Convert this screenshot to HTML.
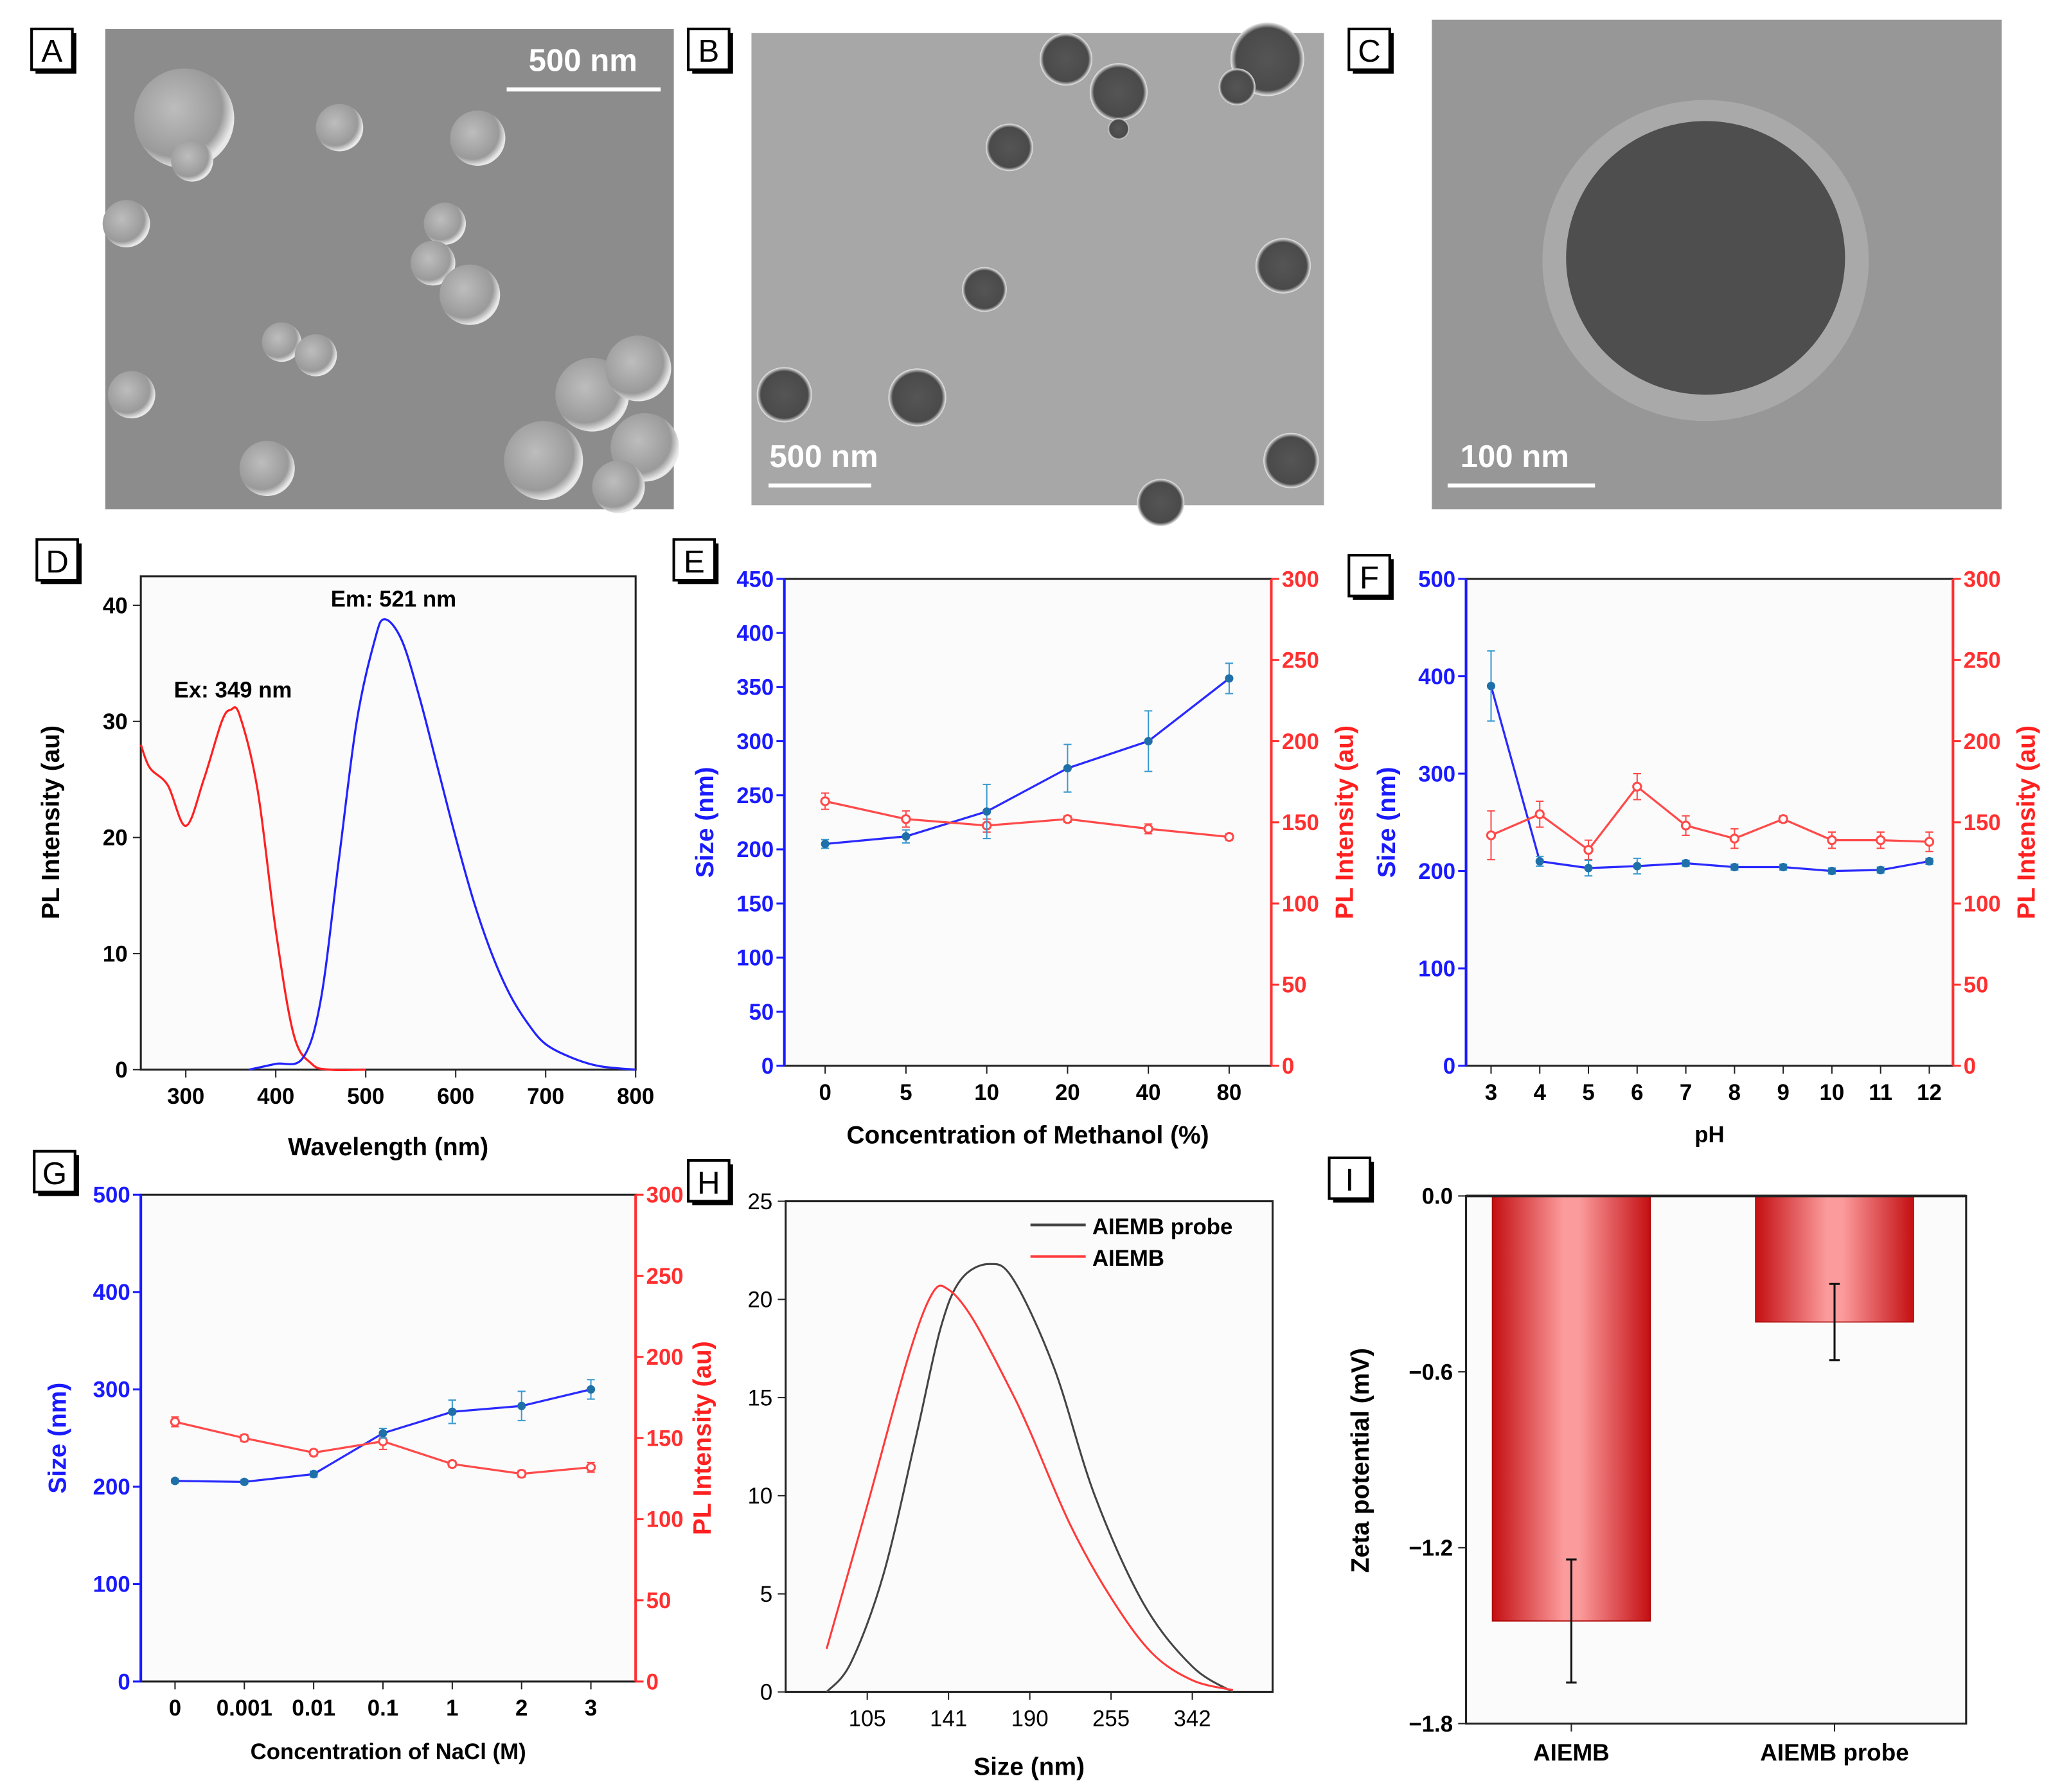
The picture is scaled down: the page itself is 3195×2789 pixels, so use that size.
<!DOCTYPE html>
<html><head><meta charset="utf-8"><style>
html,body{margin:0;padding:0;background:#fff;}
svg{display:block;font-family:"Liberation Sans",sans-serif;}
</style></head><body>
<svg id="fig" width="3195" height="2789" viewBox="0 0 1560 1362" preserveAspectRatio="none" xmlns="http://www.w3.org/2000/svg">
<defs>
<radialGradient id="sph" cx="0.4" cy="0.4" r="0.6"><stop offset="0" stop-color="#bdbdbd"/><stop offset="0.8" stop-color="#9a9a9a"/><stop offset="1" stop-color="#e8e8e8"/></radialGradient>
<radialGradient id="hole" cx="0.5" cy="0.5" r="0.5"><stop offset="0" stop-color="#555"/><stop offset="0.85" stop-color="#4a4a4a"/><stop offset="1" stop-color="#eee"/></radialGradient>
<linearGradient id="barg" x1="0" x2="1" y1="0" y2="0"><stop offset="0" stop-color="#c40f12"/><stop offset="0.45" stop-color="#fb9b9c"/><stop offset="0.55" stop-color="#fb9b9c"/><stop offset="1" stop-color="#c40f12"/></linearGradient>
</defs>
<g>
<rect x="80" y="22" width="432" height="365" fill="#8c8c8c"/>
<circle cx="140" cy="90" r="38" fill="url(#sph)"/><circle cx="146" cy="122" r="16" fill="url(#sph)"/>
<circle cx="96" cy="170" r="18" fill="url(#sph)"/><circle cx="100" cy="300" r="18" fill="url(#sph)"/>
<circle cx="258" cy="97" r="18" fill="url(#sph)"/><circle cx="363" cy="105" r="21" fill="url(#sph)"/>
<circle cx="338" cy="170" r="16" fill="url(#sph)"/><circle cx="329" cy="200" r="17" fill="url(#sph)"/><circle cx="357" cy="224" r="23" fill="url(#sph)"/>
<circle cx="214" cy="260" r="15" fill="url(#sph)"/><circle cx="240" cy="270" r="16" fill="url(#sph)"/>
<circle cx="203" cy="356" r="21" fill="url(#sph)"/><circle cx="413" cy="350" r="30" fill="url(#sph)"/>
<circle cx="450" cy="300" r="28" fill="url(#sph)"/><circle cx="485" cy="280" r="25" fill="url(#sph)"/><circle cx="490" cy="340" r="26" fill="url(#sph)"/><circle cx="470" cy="370" r="20" fill="url(#sph)"/>
<text x="443" y="54" font-size="24" font-weight="bold" fill="#fff" text-anchor="middle">500 nm</text>
<line x1="385" y1="68" x2="502" y2="68" stroke="#fff" stroke-width="3"/>
</g>
<g><rect x="27" y="25" width="31" height="31" fill="#000"/><rect x="24" y="22" width="31" height="31" fill="#fff" stroke="#000" stroke-width="2"/><text x="39.5" y="47" font-size="24" text-anchor="middle">A</text></g>
<g>
<rect x="571" y="25" width="435" height="359" fill="#a7a7a7"/>
<circle cx="810" cy="45" r="20" fill="url(#hole)"/><circle cx="850" cy="70" r="22" fill="url(#hole)"/><circle cx="850" cy="98" r="8" fill="url(#hole)"/>
<circle cx="963" cy="45" r="28" fill="url(#hole)"/><circle cx="940" cy="66" r="14" fill="url(#hole)"/>
<circle cx="767" cy="112" r="18" fill="url(#hole)"/><circle cx="748" cy="220" r="17" fill="url(#hole)"/>
<circle cx="975" cy="202" r="21" fill="url(#hole)"/><circle cx="596" cy="300" r="21" fill="url(#hole)"/>
<circle cx="697" cy="302" r="22" fill="url(#hole)"/><circle cx="981" cy="350" r="21" fill="url(#hole)"/><circle cx="882" cy="382" r="18" fill="url(#hole)"/>
<text x="626" y="355" font-size="24" font-weight="bold" fill="#fff" text-anchor="middle">500 nm</text>
<line x1="584" y1="369" x2="662" y2="369" stroke="#fff" stroke-width="3"/>
</g>
<g><rect x="526" y="25" width="31" height="31" fill="#000"/><rect x="523" y="22" width="31" height="31" fill="#fff" stroke="#000" stroke-width="2"/><text x="538.5" y="47" font-size="24" text-anchor="middle">B</text></g>
<g>
<rect x="1088" y="15" width="433" height="372" fill="#979797"/>
<ellipse cx="1296" cy="198" rx="124" ry="122" fill="#a9a9a9"/>
<ellipse cx="1296" cy="196" rx="106" ry="104" fill="#4e4e4e"/>
<text x="1151" y="355" font-size="24" font-weight="bold" fill="#fff" text-anchor="middle">100 nm</text>
<line x1="1100" y1="369" x2="1212" y2="369" stroke="#fff" stroke-width="3"/>
</g>
<g><rect x="1028" y="25" width="31" height="31" fill="#000"/><rect x="1025" y="22" width="31" height="31" fill="#fff" stroke="#000" stroke-width="2"/><text x="1040.5" y="47" font-size="24" text-anchor="middle">C</text></g>
<g id="charts"></g>
</svg>
<script>
const dExWl = [250,260,280,300,320,340,350,360,380,400,420,440,460,500];
const dExVal = [28,26,24.5,21,25,30,31,30.5,24,12,3,0.5,0,0];
const dEmWl = [370,400,430,450,470,490,510,521,540,560,580,600,620,640,660,680,700,730,760,800];
const dEmVal = [0,0.5,1,6,18,30,37,38.8,37,32,26,20,14.5,10,6.5,4,2.2,1,0.3,0];
const dXTicks = [300,400,500,600,700,800];
const dYTicks = [0,10,20,30,40];
const eCats = ['0','5','10','20','40','80'];
const eSize = [205,212,235,275,300,358];
const eSizeErr = [4,6,25,22,28,14];
const ePL = [163,152,148,152,146,141];
const ePLErr = [5,5,4,2,3,2];
const eLeftTicks = [0,50,100,150,200,250,300,350,400,450];
const fCats = ['3','4','5','6','7','8','9','10','11','12'];
const fSize = [390,210,203,205,208,204,204,200,201,210];
const fSizeErr = [36,5,8,8,3,3,3,3,3,3];
const fPL = [142,155,133,172,148,140,152,139,139,138];
const fPLErr = [15,8,6,8,6,6,2,5,5,6];
const fLeftTicks = [0,100,200,300,400,500];
const gCats = ['0','0.001','0.01','0.1','1','2','3'];
const gSize = [206,205,213,255,277,283,300];
const gSizeErr = [2,2,3,5,12,15,10];
const gPL = [160,150,141,148,134,128,132];
const gPLErr = [3,2,2,5,2,2,3];
const rightTicks = [0,50,100,150,200,250,300];
const hTickLabels = ['105','141','190','255','342'];
const hYTicks = [0,5,10,15,20,25];
const hProbePos = [-0.5,-0.2,0.2,0.6,0.9,1.15,1.5,1.8,2.3,2.8,3.4,4,4.5];
const hProbeVal = [0,1.5,6,13,18.5,21,21.8,21,16.5,10,4.5,1.3,0];
const hAiePos = [-0.5,0,0.5,0.8,1,1.3,1.75,2,2.5,3,3.5,4,4.5];
const hAieVal = [2.2,9.5,17,20.3,20.5,19,15.5,13.3,8.5,4.8,2,0.6,0.1];
const iCats = ['AIEMB','AIEMB probe'];
const iVals = [-1.45,-0.43];
const iErr = [0.21,0.13];
const iTicks = [0.0,-0.6,-1.2,-1.8];

const NS='http://www.w3.org/2000/svg';
const root=document.getElementById('charts');
function mk(tag,attrs,parent,txt){const e=document.createElementNS(NS,tag);for(const k in attrs)e.setAttribute(k,attrs[k]);if(txt!==undefined)e.textContent=txt;(parent||root).appendChild(e);return e;}
function lin(d0,d1,r0,r1){return v=>r0+(v-d0)/(d1-d0)*(r1-r0);}
function smooth(pts){let d='M'+pts[0][0]+','+pts[0][1];for(let i=0;i<pts.length-1;i++){const p0=pts[i-1]||pts[i],p1=pts[i],p2=pts[i+1],p3=pts[i+2]||p2;const c1x=p1[0]+(p2[0]-p0[0])/6,c1y=p1[1]+(p2[1]-p0[1])/6,c2x=p2[0]-(p3[0]-p1[0])/6,c2y=p2[1]-(p3[1]-p1[1])/6;d+=' C'+c1x+','+c1y+' '+c2x+','+c2y+' '+p2[0]+','+p2[1];}return d;}
function label(letter,x,y){const g=mk('g',{});mk('rect',{x:x+3,y:y+3,width:31,height:31,fill:'#000'},g);mk('rect',{x:x,y:y,width:31,height:31,fill:'#fff',stroke:'#000','stroke-width':2},g);mk('text',{x:x+15.5,y:y+25,'font-size':24,'text-anchor':'middle'},g,letter);}
function frame(g,L,T,R,B){mk('rect',{x:L,y:T,width:R-L,height:B-T,fill:'#fbfbfb',stroke:'#222','stroke-width':1.5},g);}

(function(){
const g=mk('g',{});
const L=107,T=438,R=483,B=813;const x=lin(250,800,L,R),y=lin(0,42.5,B,T);
frame(g,L,T,R,B);
dXTicks.forEach(v=>{mk('line',{x1:x(v),y1:B,x2:x(v),y2:B+6,stroke:'#222'},g);const t=mk('text',{x:x(v),y:B+26,'font-size':17,'font-weight':'bold','text-anchor':'middle'},g,v);});
dYTicks.forEach(v=>{mk('line',{x1:L-6,y1:y(v),x2:L,y2:y(v),stroke:'#222'},g);const t=mk('text',{x:L-10,y:y(v)+6,'font-size':17,'font-weight':'bold','text-anchor':'end'},g,v);});
const ex=mk('path',{d:smooth(dExWl.map((w,i)=>[x(w),y(dExVal[i])])),fill:'none',stroke:'#ff2020','stroke-width':1.6},g);

const em=mk('path',{d:smooth(dEmWl.map((w,i)=>[x(w),y(dEmVal[i])])),fill:'none',stroke:'#2222ff','stroke-width':1.6},g);

mk('text',{x:177,y:530,'font-size':17,'font-weight':'bold','text-anchor':'middle'},g,'Ex: 349 nm');
mk('text',{x:299,y:461,'font-size':17,'font-weight':'bold','text-anchor':'middle'},g,'Em: 521 nm');
const xt=mk('text',{x:295,y:878,'font-size':19,'font-weight':'bold','text-anchor':'middle'},g,'Wavelength (nm)');
const yt=mk('text',{x:45,y:625,'font-size':19,'font-weight':'bold','text-anchor':'middle',transform:'rotate(-90 45 625)'},g,'PL Intensity (au)');
label('D',28,410);
})();

function dual(o){
const g=mk('g',{});
const {L,T,R,B}=o;frame(g,L,T,R,B);
mk('line',{x1:L,y1:T,x2:L,y2:B,stroke:'#1a1aff','stroke-width':2},g);
mk('line',{x1:R,y1:T,x2:R,y2:B,stroke:'#ff3030','stroke-width':2},g);
const yl=lin(0,o.lmax,B,T),yr=lin(0,300,B,T);const n=o.cats.length;const xs=i=>o.x0+i*(o.x1-o.x0)/(n-1);
o.lticks.forEach(v=>{mk('line',{x1:L-6,y1:yl(v),x2:L,y2:yl(v),stroke:'#1a1aff','stroke-width':1.5},g);const t=mk('text',{x:L-8,y:yl(v)+6,'font-size':17,'font-weight':'bold',fill:'#1a1aff','text-anchor':'end'},g,v);});
rightTicks.forEach(v=>{mk('line',{x1:R,y1:yr(v),x2:R+6,y2:yr(v),stroke:'#ff3030','stroke-width':1.5},g);const t=mk('text',{x:R+8,y:yr(v)+6,'font-size':17,'font-weight':'bold',fill:'#ff3030'},g,v);});
o.cats.forEach((c,i)=>{mk('line',{x1:xs(i),y1:B,x2:xs(i),y2:B+6,stroke:'#222'},g);const t=mk('text',{x:xs(i),y:B+26,'font-size':17,'font-weight':'bold','text-anchor':'middle'},g,c);});
const sp=mk('polyline',{points:o.size.map((v,i)=>xs(i)+','+yl(v)).join(' '),fill:'none',stroke:'#2a2aff','stroke-width':1.6},g);

const pp=mk('polyline',{points:o.pl.map((v,i)=>xs(i)+','+yr(v)).join(' '),fill:'none',stroke:'#ff4a4a','stroke-width':1.6},g);

o.pl.forEach((v,i)=>{const e=o.plErr[i];mk('path',{d:`M${xs(i)},${yr(v-e)}V${yr(v+e)}M${xs(i)-3},${yr(v-e)}h6M${xs(i)-3},${yr(v+e)}h6`,stroke:'#ff4a4a','stroke-width':1},g);const c=mk('circle',{cx:xs(i),cy:yr(v),r:3,fill:'#fff',stroke:'#ff4a4a','stroke-width':1.5},g);});
o.size.forEach((v,i)=>{const e=o.sizeErr[i];mk('path',{d:`M${xs(i)},${yl(v-e)}V${yl(v+e)}M${xs(i)-3},${yl(v-e)}h6M${xs(i)-3},${yl(v+e)}h6`,stroke:'#3a9ad0','stroke-width':1},g);const c=mk('circle',{cx:xs(i),cy:yl(v),r:3.2,fill:'#1f6fa8'},g);});
const lt=mk('text',{x:o.ltx,y:(T+B)/2,'font-size':19,'font-weight':'bold',fill:'#1a1aff','text-anchor':'middle',transform:`rotate(-90 ${o.ltx} ${(T+B)/2})`},g,'Size (nm)');
const rt=mk('text',{x:o.rtx,y:(T+B)/2,'font-size':19,'font-weight':'bold',fill:'#ff2020','text-anchor':'middle',transform:`rotate(-90 ${o.rtx} ${(T+B)/2})`},g,'PL Intensity (au)');
const xt=mk('text',{x:(L+R)/2,y:o.xty,'font-size':o.xfs||19,'font-weight':'bold','text-anchor':'middle'},g,o.xtitle);
}
dual({name:'panel-e-methanol-chart',L:596,T:440,R:966,B:810,lmax:450,cats:eCats,size:eSize,sizeErr:eSizeErr,pl:ePL,plErr:ePLErr,lticks:eLeftTicks,x0:627,x1:934,ltx:542,rtx:1028,xty:869,xtitle:'Concentration of Methanol (%)'});
label('E',512,410);
dual({name:'panel-f-ph-chart',L:1114,T:440,R:1484,B:810,lmax:500,cats:fCats,size:fSize,sizeErr:fSizeErr,pl:fPL,plErr:fPLErr,lticks:fLeftTicks,x0:1133,x1:1466,ltx:1060,rtx:1546,xty:868,xtitle:'pH',xfs:17});
label('F',1025,422);
dual({name:'panel-g-nacl-chart',L:107,T:908,R:483,B:1278,lmax:500,cats:gCats,size:gSize,sizeErr:gSizeErr,pl:gPL,plErr:gPLErr,lticks:fLeftTicks,x0:133,x1:449,ltx:50,rtx:540,xty:1337,xtitle:'Concentration of NaCl (M)',xfs:17});
label('G',26,875);

(function(){
const g=mk('g',{});
const L=597,T=913,R=967,B=1286;const x=lin(0,4,659,906),y=lin(0,25,B,T);
frame(g,L,T,R,B);
hTickLabels.forEach((s,i)=>{mk('line',{x1:x(i),y1:B,x2:x(i),y2:B+6,stroke:'#222'},g);const t=mk('text',{x:x(i),y:B+26,'font-size':17,'text-anchor':'middle'},g,s);});
hYTicks.forEach(v=>{mk('line',{x1:L-6,y1:y(v),x2:L,y2:y(v),stroke:'#222'},g);const t=mk('text',{x:L-10,y:y(v)+6,'font-size':17,'text-anchor':'end'},g,v);});
const a=mk('path',{d:smooth(hProbePos.map((p,i)=>[x(p),y(hProbeVal[i])])),fill:'none',stroke:'#444','stroke-width':1.5},g);
const b=mk('path',{d:smooth(hAiePos.map((p,i)=>[x(p),y(hAieVal[i])])),fill:'none',stroke:'#ff3a3a','stroke-width':1.5},g);
const l1=mk('g',{},g);
mk('line',{x1:783,y1:931,x2:825,y2:931,stroke:'#444','stroke-width':2},l1);mk('text',{x:830,y:938,'font-size':17,'font-weight':'bold'},l1,'AIEMB probe');
const l2=mk('g',{},g);
mk('line',{x1:783,y1:955,x2:825,y2:955,stroke:'#ff3a3a','stroke-width':2},l2);mk('text',{x:830,y:962,'font-size':17,'font-weight':'bold'},l2,'AIEMB');
const xt=mk('text',{x:782,y:1349,'font-size':19,'font-weight':'bold','text-anchor':'middle'},g,'Size (nm)');
label('H',523,882);
})();

(function(){
const g=mk('g',{});
const L=1114,T=909,R=1494,B=1310;const y=lin(0,-1.8,T,B);const cx=[1194,1394],bw=120;
frame(g,L,T,R,B);
iTicks.forEach(v=>{mk('line',{x1:L-6,y1:y(v),x2:L,y2:y(v),stroke:'#222'},g);const t=mk('text',{x:L-10,y:y(v)+6,'font-size':17,'font-weight':'bold','text-anchor':'end'},g,(v===0?'0.0':'\u2212'+Math.abs(v).toFixed(1)));});
iVals.forEach((v,i)=>{const r=mk('rect',{x:cx[i]-bw/2,y:y(0),width:bw,height:y(v)-y(0),fill:'url(#barg)',stroke:'#a00','stroke-width':0.8},g);
const e=iErr[i];mk('path',{d:`M${cx[i]},${y(v-e)}V${y(v+e)}M${cx[i]-4},${y(v-e)}h8M${cx[i]-4},${y(v+e)}h8`,stroke:'#111','stroke-width':1.5},g);
mk('line',{x1:cx[i],y1:B,x2:cx[i],y2:B+6,stroke:'#222'},g);
const t=mk('text',{x:cx[i],y:B+28,'font-size':18,'font-weight':'bold','text-anchor':'middle'},g,iCats[i]);});
mk('line',{x1:L,y1:T,x2:R,y2:T,stroke:'#222','stroke-width':2},g);
const yt=mk('text',{x:1040,y:1110,'font-size':19,'font-weight':'bold','text-anchor':'middle',transform:'rotate(-90 1040 1110)'},g,'Zeta potential (mV)');
label('I',1010,880);
})();
</script>
</body></html>
